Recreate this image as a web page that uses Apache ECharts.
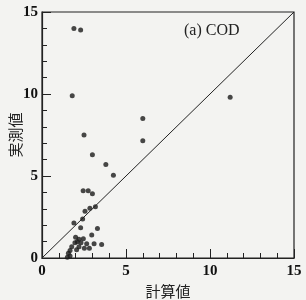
<!DOCTYPE html>
<html><head><meta charset="utf-8">
<script src="https://cdn.jsdelivr.net/npm/echarts@6/dist/echarts.min.js"></script>
<style>html,body{margin:0;padding:0;background:#f3f3f1;}#c{width:306px;height:300px;}</style>
</head><body><div id="c"></div>
<script>
const calcValues = [1.9,2.3,1.8,6.0,2.5,6.0,3.0,3.8,4.25,2.45,2.75,3.0,11.2,2.85,3.18,2.56,1.9,2.42,2.3,3.3,2.96,2.0,2.2,2.1,2.32,2.66,1.96,3.1,3.55,1.77,2.2,2.52,2.82,2.06,1.67,1.57,1.67,1.51,2.46];
const measuredValues = [14.0,13.9,9.9,8.5,7.5,7.15,6.3,5.7,5.05,4.1,4.1,3.92,9.8,3.03,3.12,2.85,2.13,2.38,1.85,1.8,1.4,1.26,1.14,0.99,0.93,0.87,0.93,0.87,0.82,0.69,0.69,0.6,0.59,0.5,0.45,0.29,0.12,0.05,1.18];
const lineValues = [[0,0],[15,15]];
const axisMin = 0, axisMax = 15, majorStep = 5;
const xTitle = '計算値', yTitle = '実測値', panelLabel = '(a) COD';

const chart = echarts.init(document.getElementById('c'));
const serif = 'Liberation Serif';
const axisCommon = {
  min: axisMin, max: axisMax, interval: majorStep,
  axisLine: {lineStyle: {color: '#222', width: 1.2}},
  axisTick: {inside: true, length: 9, lineStyle: {color: '#222'}},
  minorTick: {show: true, splitNumber: 5, length: 5, lineStyle: {color: '#222'}},
  splitLine: {show: false},
  nameMoveOverlap: false,
  axisLabel: {color: '#111', fontFamily: serif, fontSize: 15, fontWeight: 'bold'},
  nameTextStyle: {color: '#222', fontFamily: 'Noto Sans CJK JP', fontSize: 15}
};
chart.setOption({
  backgroundColor: '#f3f3f1',
  animation: false,
  grid: {left: 42, right: 12, top: 12, bottom: 42, show: true, borderColor: '#222', borderWidth: 1.2,
    containLabel: false, outerBoundsMode: 'none'},
  xAxis: Object.assign({}, axisCommon, {type: 'value', name: xTitle, nameLocation: 'middle', nameGap: 26,
    axisLabel: Object.assign({}, axisCommon.axisLabel, {margin: 6})}),
  yAxis: Object.assign({}, axisCommon, {type: 'value', name: yTitle, nameLocation: 'middle', nameGap: 19,
    axisLabel: Object.assign({}, axisCommon.axisLabel, {margin: 4})}),
  graphic: [{type: 'text', left: 184, top: 23, style: {text: panelLabel, font: '16px "Liberation Serif"', fill: '#222'}}],
  series: [
    {type: 'line', data: lineValues, symbol: 'none', lineStyle: {color: '#222', width: 1}, silent: true},
    {type: 'scatter', data: calcValues.map((x, i) => [x, measuredValues[i]]), symbolSize: 5,
     itemStyle: {color: '#1a1a1a'}}
  ]
});
</script></body></html>
